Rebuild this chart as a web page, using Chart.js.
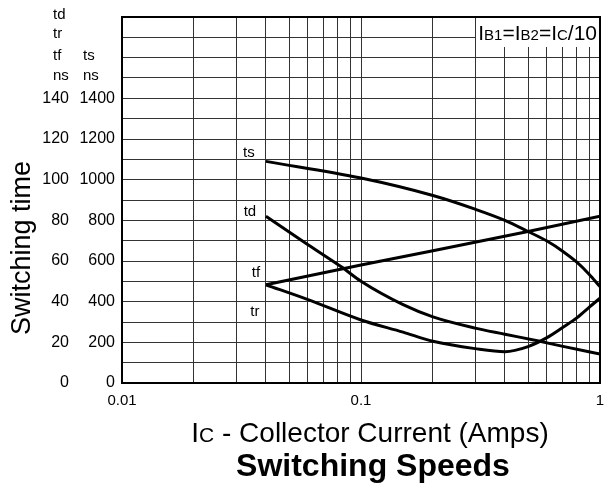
<!DOCTYPE html>
<html>
<head>
<meta charset="utf-8">
<script src="https://cdn.jsdelivr.net/npm/chart.js@4"></script>
<style>
  html, body { margin: 0; padding: 0; background: #fff; }
  #wrap { width: 604px; height: 486px; }
</style>
</head>
<body>
<div id="wrap"><canvas id="speedChart" width="604" height="486"></canvas></div>
<script>
// data (Ic in amps, times in ns)
const tsCurrent = [0.04, 0.1, 0.2, 0.3, 0.4, 0.5, 0.6, 0.7, 0.8, 0.9, 1];
const tsTime = [1090, 1008, 922, 855, 800, 745, 698, 647, 594, 535, 474];

const tdCurrent = [0.04, 0.06, 0.083, 0.1, 0.15, 0.2, 0.3, 0.4, 0.56, 0.7, 1];
const tdTime = [82, 68, 57, 50, 38.5, 32.5, 27, 24, 20.5, 18, 14.3];

const tfCurrent = [0.04, 0.1, 0.2, 0.5, 1];
const tfTime = [48.3, 58, 65, 74.5, 82];

const trCurrent = [0.04, 0.06, 0.1, 0.15, 0.2, 0.3, 0.4, 0.5, 0.6, 0.7, 0.8, 0.9, 1];
const trTime = [48.3, 41, 31, 25, 20.5, 16.9, 15.4, 17.9, 22.3, 27.4, 32, 37.2, 41.7];

// axes
const xGridValues = [0.01, 0.02, 0.03, 0.04, 0.05, 0.06, 0.07, 0.08, 0.09,
                     0.1, 0.2, 0.3, 0.4, 0.5, 0.6, 0.7, 0.8, 0.9, 1];
const xLabelValues = [0.01, 0.1, 1];
const tsAxisMax = 1800;
const nsAxisMax = 180;
const leftHeader = ['td', 'tr', 'tf', 'ns'];
const rightHeader = ['ts', 'ns'];

const FONT = "'Liberation Sans', Arial, sans-serif";
Chart.defaults.font.family = FONT;
Chart.defaults.color = '#000';

function toPoints(xs, ys) {
    return xs.map((x, i) => ({ x: x, y: ys[i] }));
}

function curve(label, xs, ys, axis, tension) {
    return {
        label: label,
        data: toPoints(xs, ys),
        yAxisID: axis,
        borderColor: '#000',
        borderWidth: 3,
        pointRadius: 0,
        fill: false,
        tension: tension,
        cubicInterpolationMode: tension ? 'monotone' : 'default'
    };
}

// mixed size text (small caps subscripts)
function drawParts(ctx, parts, x, y, align, weight) {
    const w = weight ? weight + ' ' : '';
    let total = 0;
    parts.forEach(p => {
        ctx.font = w + p.s + 'px ' + FONT;
        p.w = ctx.measureText(p.t).width;
        total += p.w;
    });
    let cx = align === 'right' ? x - total : (align === 'center' ? x - total / 2 : x);
    ctx.textAlign = 'left';
    ctx.textBaseline = 'alphabetic';
    parts.forEach(p => {
        ctx.font = w + p.s + 'px ' + FONT;
        ctx.fillText(p.t, cx, y);
        cx += p.w;
    });
}

const curveLabelOffsets = {
    ts: [-17, -9],
    td: [-16, -4],
    tf: [-10, -12],
    tr: [-11, 27]
};

const extrasPlugin = {
    id: 'extras',
    afterDraw(chart) {
        const ctx = chart.ctx;
        const area = chart.chartArea;
        ctx.save();

        // condition box top right
        ctx.fillStyle = '#fff';
        ctx.fillRect(476, area.top + 1, area.right - 477, 29);
        ctx.fillStyle = '#000';
        drawParts(ctx, [
            { t: 'I', s: 21 }, { t: 'B1', s: 15 }, { t: '=', s: 21 },
            { t: 'I', s: 21 }, { t: 'B2', s: 15 }, { t: '=', s: 21 },
            { t: 'I', s: 21 }, { t: 'C', s: 15 }, { t: '/10', s: 21 }
        ], area.right - 3, 40, 'right');

        // frame
        ctx.strokeStyle = '#000';
        ctx.lineWidth = 2;
        ctx.strokeRect(area.left, area.top, area.right - area.left, area.bottom - area.top);

        // curve names
        ctx.font = '15px ' + FONT;
        ctx.textAlign = 'center';
        ctx.textBaseline = 'middle';
        chart.data.datasets.forEach((ds, i) => {
            const first = chart.getDatasetMeta(i).data[0];
            const off = curveLabelOffsets[ds.label];
            ctx.fillText(ds.label, first.x + off[0], first.y + off[1]);
        });

        // unit headers
        ctx.textAlign = 'left';
        const headY = [15, 34, 56, 76];
        leftHeader.forEach((t, i) => ctx.fillText(t, 53, headY[i]));
        rightHeader.forEach((t, i) => ctx.fillText(t, 83, headY[i + 2]));

        // y title
        ctx.save();
        ctx.translate(30, 248);
        ctx.rotate(-Math.PI / 2);
        ctx.font = '27px ' + FONT;
        ctx.textAlign = 'center';
        ctx.textBaseline = 'alphabetic';
        ctx.fillText('Switching time', 0, 0);
        ctx.restore();

        // x title
        drawParts(ctx, [
            { t: 'I', s: 28 }, { t: 'C', s: 21 }, { t: ' - Collector Current (Amps)', s: 28 }
        ], 370, 442, 'center');

        // chart title
        drawParts(ctx, [{ t: 'Switching Speeds', s: 32 }], 373, 476, 'center', 'bold');

        ctx.restore();
    }
};

const chartCanvas = document.getElementById('speedChart');
new Chart(chartCanvas, {
    type: 'line',
    data: {
        datasets: [
            curve('ts', tsCurrent, tsTime, 'y', 0.4),
            curve('td', tdCurrent, tdTime, 'y2', 0.4),
            curve('tf', tfCurrent, tfTime, 'y2', 0),
            curve('tr', trCurrent, trTime, 'y2', 0.4)
        ]
    },
    options: {
        responsive: false,
        animation: false,
        layout: { padding: { top: 17, right: 4, left: 0, bottom: 0 } },
        plugins: {
            legend: { display: false },
            tooltip: { enabled: false },
            title: { display: false }
        },
        scales: {
            x: {
                type: 'logarithmic',
                min: 0.01,
                max: 1,
                afterBuildTicks: (scale) => {
                    scale.ticks = xGridValues.map(v => ({ value: v }));
                },
                afterFit: (scale) => {
                    scale.height = 103;
                    scale.paddingLeft = 0;
                    scale.paddingRight = 0;
                },
                grid: { color: '#333', lineWidth: 1, drawTicks: false },
                border: { display: true, color: '#000', width: 2 },
                ticks: {
                    autoSkip: false,
                    maxRotation: 0,
                    padding: 9,
                    font: { size: 15 },
                    callback: (value) => xLabelValues.includes(value) ? String(value) : ''
                }
            },
            y: {
                position: 'left',
                weight: 0,
                min: 0,
                max: tsAxisMax,
                afterFit: (scale) => { scale.width = 50; },
                grid: { color: '#333', lineWidth: 1, drawTicks: false },
                border: { display: true, color: '#000', width: 2 },
                ticks: {
                    stepSize: 100,
                    autoSkip: false,
                    padding: 7,
                    font: { size: 16 },
                    callback: (value) => (value % 200 === 0 && value <= 1400) ? value : ''
                }
            },
            y2: {
                position: 'left',
                weight: 1,
                min: 0,
                max: nsAxisMax,
                afterFit: (scale) => { scale.width = 72; },
                grid: { display: false, drawTicks: false },
                border: { display: false },
                ticks: {
                    stepSize: 20,
                    autoSkip: false,
                    padding: 3,
                    font: { size: 16 },
                    callback: (value) => (value % 20 === 0 && value <= 140) ? value : ''
                }
            }
        }
    },
    plugins: [extrasPlugin]
});
</script>
</body>
</html>
